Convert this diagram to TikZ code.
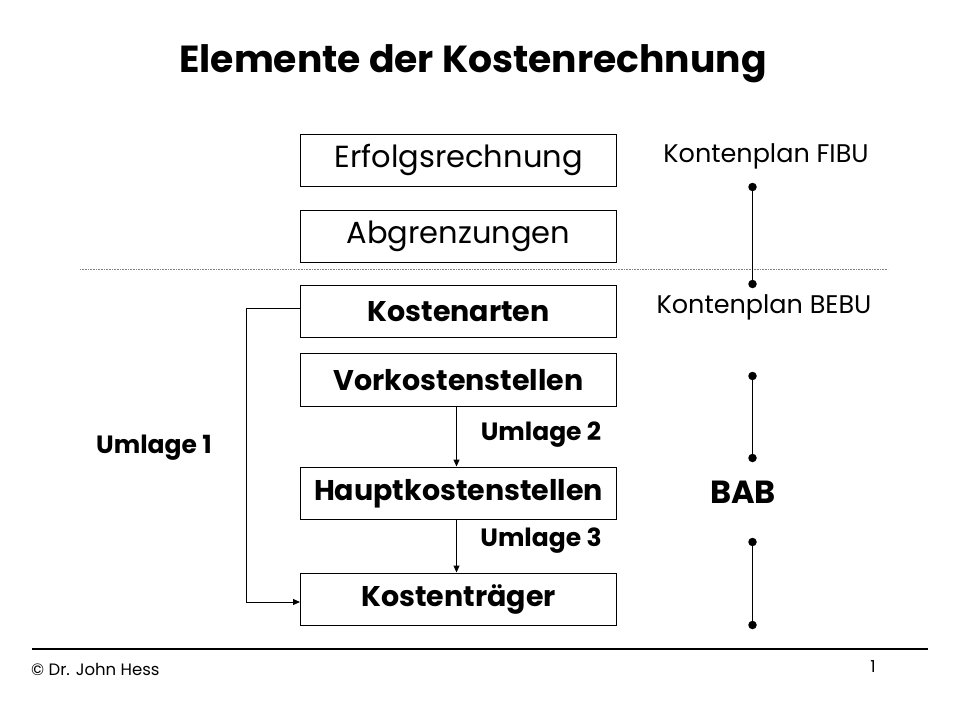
\documentclass[tikz,border=0pt]{standalone}
\usepackage{fontspec}
\setmainfont{Poppins}
\usetikzlibrary{arrows.meta}
\tikzset{
  box/.style={draw, line width=1.2pt, minimum width=316pt, minimum height=52.5pt, inner sep=0pt, anchor=north west},
  plain/.style={font=\fontsize{30.5}{34}\selectfont},
  strong/.style={font=\bfseries\fontsize{28.5}{32}\selectfont},
  lbl/.style={font=\bfseries\fontsize{25}{28}\selectfont, inner sep=0pt},
  side/.style={font=\fontsize{25.5}{28}\selectfont, inner sep=0pt},
  conn/.style={line width=1pt, -{Triangle[length=7pt,width=6pt]}},
  dotc/.style={circle, fill=black, inner sep=0pt, minimum size=8.5pt},
}
\begin{document}
\begin{tikzpicture}[x=1pt,y=-1pt]
\useasboundingbox (0,0) rectangle (960,720);
\node[font=\bfseries\fontsize{37.7}{44}\selectfont, inner sep=0pt] (title) at (473,64) {Elemente der Kostenrechnung};
\node[box, plain] (erf) at (300,133.5) {Erfolgsrechnung};
\node[box, plain] (abg) at (300,209.5) {Abgrenzungen};
\node[box, strong] (ka) at (300,284.5) {Kostenarten};
\node[box, strong] (vk) at (300,353) {Vorkostenstellen};
\node[box, strong] (hk) at (300,466.5) {Hauptkostenstellen};
\node[box, strong] (kt) at (300,572.5) {Kostenträger};
\draw[densely dotted, gray, line width=0.6pt] (80,269) -- (888,269);
\coordinate (c1) at (246,308);
\coordinate (c2) at (246,602);
\draw[conn] (ka.west |- 0,308) -- (c1) -- (c2) -- (kt.west |- 0,602);
\draw[conn] (vk.south -| 456.5,0) -- (hk.north -| 456.5,0);
\draw[conn] (hk.south -| 456.5,0) -- (kt.north -| 456.5,0);
\node[lbl] (u1) at (154,448) {Umlage 1};
\node[lbl] (u2) at (541,435) {Umlage 2};
\node[lbl] (u3) at (541,541) {Umlage 3};
\node[side] (fibu) at (766,156) {Kontenplan FIBU};
\node[side] (bebu) at (764,307) {Kontenplan BEBU};
\node[font=\bfseries\fontsize{32}{36}\selectfont, inner sep=0pt] (bab) at (743,492) {BAB};
\node[dotc] (d1) at (752.5,187) {};
\node[dotc] (d2) at (752.5,284) {};
\node[dotc] (d3) at (752.5,376) {};
\node[dotc] (d4) at (752.5,458) {};
\node[dotc] (d5) at (752.5,542) {};
\node[dotc] (d6) at (752.5,625) {};
\draw[line width=1.2pt] (d1) -- (d2);
\draw[line width=1.2pt] (d3) -- (d4);
\draw[line width=1.2pt] (d5) -- (d6);
\coordinate (f1) at (32,649);
\coordinate (f2) at (928,649);
\draw[line width=1.2pt] (f1) -- (f2);
\node[font=\fontsize{16.5}{18}\selectfont, inner sep=0pt, anchor=west] (copy) at (31,669) {© Dr. John Hess};
\node[font=\fontsize{16.5}{18}\selectfont, inner sep=0pt] (page) at (873,667) {1};
\end{tikzpicture}
\end{document}
